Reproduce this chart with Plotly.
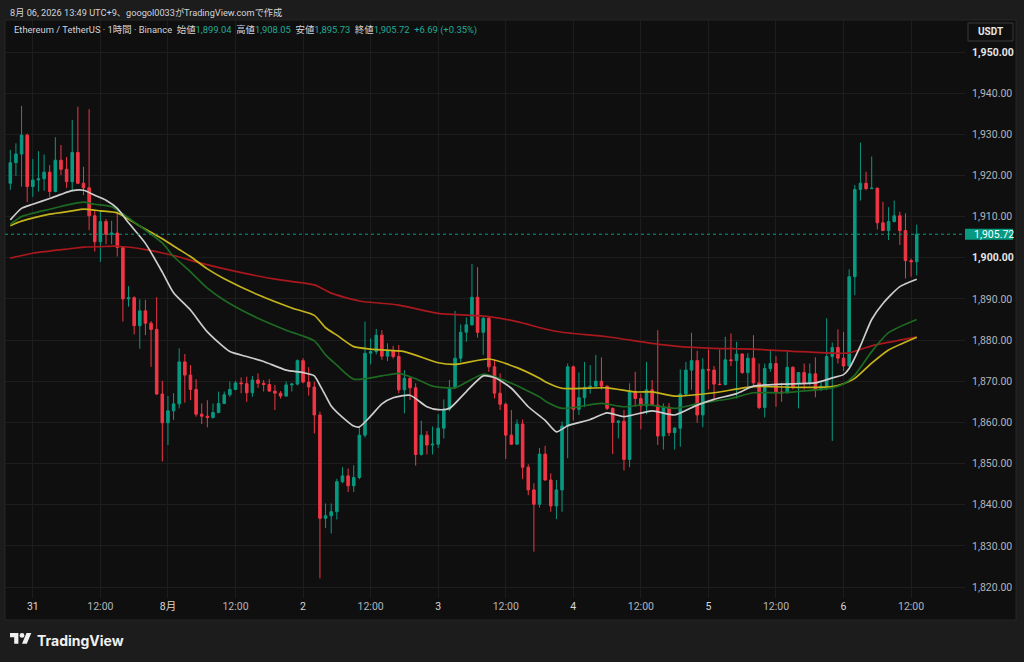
import pandas as pd
import plotly.graph_objects as go

# ---------------- data ----------------
start_time = "2026-07-30 20:00"

opens = [1918.1, 1923.1, 1925.2, 1929.8, 1917.3, 1918.9, 1919.2, 1920.8, 1916.1, 1923.7,
         1921.5, 1918.5, 1925.6, 1918.1, 1917.0, 1910.2, 1903.9, 1908.8, 1905.7, 1906.0,
         1902.5, 1890.0, 1890.3, 1883.5, 1887.1, 1884.1, 1882.6, 1866.9, 1859.9, 1862.8,
         1864.5, 1874.7, 1871.5, 1868.0, 1862.0, 1861.5, 1861.2, 1862.4, 1864.6, 1866.7,
         1868.0, 1869.6, 1869.4, 1867.2, 1870.3, 1869.5, 1869.2, 1867.6, 1867.1, 1866.4,
         1869.1, 1869.3, 1875.0, 1869.8, 1868.6, 1861.8, 1836.7, 1837.3, 1838.3, 1845.6,
         1847.0, 1844.6, 1846.6, 1856.9, 1876.8, 1877.2, 1881.2, 1876.1, 1877.4, 1876.0,
         1867.9, 1870.7, 1868.4, 1852.2, 1856.9, 1854.5, 1854.7, 1858.6, 1863.2, 1868.4,
         1875.6, 1881.9, 1883.7, 1890.4, 1881.9, 1885.3, 1873.5, 1867.1, 1864.4, 1856.9,
         1854.7, 1859.6, 1849.1, 1843.6, 1840.1, 1852.3, 1846.0, 1839.7, 1843.6, 1859.1,
         1873.5, 1863.2, 1866.0, 1868.5, 1868.8, 1870.0, 1868.8, 1863.4, 1860.0, 1860.3,
         1851.0, 1867.4, 1865.8, 1864.0, 1867.9, 1864.2, 1856.7, 1863.7, 1857.5, 1858.6,
         1866.9, 1872.7, 1875.0, 1861.8, 1872.9, 1872.7, 1869.3, 1869.2, 1875.2, 1875.0,
         1876.6, 1872.1, 1875.6, 1869.6, 1863.6, 1873.1, 1874.3, 1867.4, 1867.2, 1873.4,
         1869.6, 1872.1, 1869.6, 1871.8, 1868.0, 1868.8, 1876.0, 1878.2, 1875.6, 1873.7,
         1895.4, 1916.6, 1918.1, 1916.8, 1916.9, 1908.5, 1906.6, 1908.8, 1910.2, 1906.6,
         1899.3, 1899.04]
highs = [1926.2, 1927.8, 1936.9, 1930.2, 1924.0, 1925.9, 1925.1, 1922.5, 1929.3, 1927.4,
         1924.5, 1933.5, 1936.7, 1922.1, 1936.1, 1911.6, 1911.6, 1909.4, 1909.0, 1911.2,
         1902.8, 1893.1, 1890.6, 1889.9, 1889.8, 1884.6, 1890.4, 1870.1, 1866.4, 1867.1,
         1878.0, 1876.6, 1873.9, 1870.5, 1864.6, 1865.4, 1864.6, 1867.5, 1867.5, 1869.9,
         1870.1, 1870.9, 1871.1, 1871.3, 1871.9, 1870.3, 1870.5, 1869.1, 1867.6, 1869.9,
         1869.6, 1875.3, 1875.6, 1873.4, 1869.9, 1862.6, 1840.3, 1840.3, 1846.3, 1849.1,
         1848.8, 1849.6, 1859.0, 1884.5, 1880.4, 1882.7, 1882.4, 1879.2, 1878.6, 1878.8,
         1872.7, 1871.1, 1869.5, 1860.4, 1857.9, 1859.0, 1862.0, 1865.6, 1870.3, 1887.1,
         1883.8, 1885.5, 1898.5, 1897.7, 1885.7, 1885.8, 1875.2, 1871.9, 1864.8, 1863.0,
         1860.7, 1860.7, 1849.8, 1845.2, 1853.8, 1854.3, 1847.6, 1846.0, 1860.2, 1874.3,
         1873.8, 1872.1, 1874.7, 1873.9, 1876.4, 1875.8, 1869.0, 1863.6, 1860.6, 1863.0,
         1869.5, 1872.3, 1867.0, 1874.7, 1870.3, 1882.4, 1864.6, 1864.7, 1858.9, 1872.9,
         1874.7, 1881.8, 1877.4, 1875.6, 1877.7, 1873.7, 1877.7, 1880.8, 1881.6, 1879.6,
         1876.8, 1876.8, 1881.2, 1874.3, 1874.3, 1877.7, 1876.1, 1869.6, 1877.6, 1873.6,
         1872.1, 1874.3, 1874.3, 1875.8, 1869.9, 1885.3, 1879.4, 1882.6, 1882.0, 1897.2,
         1917.7, 1928.0, 1920.9, 1924.6, 1917.1, 1913.6, 1912.3, 1913.9, 1911.2, 1910.8,
         1899.8, 1908.05]
lows = [1916.5, 1919.9, 1917.3, 1913.5, 1914.8, 1916.1, 1916.3, 1914.8, 1915.9, 1920.1,
        1917.0, 1916.1, 1917.9, 1915.2, 1906.7, 1901.5, 1899.0, 1903.3, 1903.3, 1900.3,
        1884.5, 1888.1, 1881.4, 1877.9, 1881.2, 1873.5, 1866.7, 1850.5, 1854.5, 1860.6,
        1863.4, 1864.8, 1865.4, 1861.4, 1859.6, 1858.8, 1860.9, 1862.2, 1864.4, 1866.2,
        1867.8, 1867.1, 1865.0, 1866.2, 1868.4, 1867.5, 1867.4, 1863.0, 1865.8, 1866.2,
        1867.5, 1869.0, 1869.5, 1866.5, 1857.3, 1822.1, 1834.3, 1833.0, 1836.4, 1845.2,
        1843.1, 1843.1, 1846.2, 1856.3, 1874.1, 1876.5, 1875.2, 1874.9, 1875.5, 1867.1,
        1862.2, 1865.4, 1849.5, 1851.9, 1852.2, 1852.2, 1853.8, 1856.1, 1862.7, 1868.2,
        1874.6, 1879.6, 1883.5, 1880.6, 1876.4, 1872.3, 1865.8, 1863.0, 1851.1, 1854.5,
        1854.5, 1846.2, 1842.3, 1828.6, 1839.3, 1845.8, 1838.3, 1836.5, 1838.3, 1851.3,
        1860.4, 1861.8, 1863.7, 1867.0, 1868.7, 1868.0, 1863.0, 1852.3, 1856.1, 1848.3,
        1849.1, 1863.8, 1858.3, 1862.0, 1864.0, 1854.5, 1853.4, 1856.7, 1853.4, 1854.1,
        1866.3, 1867.9, 1859.9, 1858.8, 1868.0, 1865.4, 1869.0, 1869.0, 1873.7, 1865.8,
        1871.8, 1868.3, 1869.0, 1863.2, 1861.2, 1872.3, 1863.8, 1865.0, 1867.0, 1868.0,
        1863.4, 1868.0, 1869.0, 1866.1, 1867.6, 1867.8, 1855.5, 1874.3, 1872.5, 1873.5,
        1890.9, 1913.9, 1916.4, 1916.7, 1906.9, 1906.5, 1904.3, 1908.6, 1903.1, 1895.0,
        1895.4, 1895.73]
closes = [1923.1, 1925.2, 1929.8, 1917.3, 1918.9, 1919.2, 1920.8, 1916.1, 1923.7, 1921.5,
          1918.5, 1925.6, 1918.1, 1917.0, 1910.2, 1903.9, 1908.8, 1905.7, 1906.0, 1902.5,
          1890.0, 1890.3, 1883.5, 1887.1, 1884.1, 1882.6, 1866.9, 1859.9, 1862.8, 1864.5,
          1874.7, 1871.5, 1868.0, 1862.0, 1861.5, 1861.2, 1862.4, 1864.6, 1866.7, 1868.0,
          1869.6, 1869.4, 1867.2, 1870.3, 1869.5, 1869.2, 1867.6, 1867.1, 1866.4, 1869.1,
          1869.3, 1875.0, 1869.8, 1868.6, 1861.8, 1836.7, 1837.3, 1838.3, 1845.6, 1847.0,
          1844.6, 1846.6, 1856.9, 1876.8, 1877.2, 1881.2, 1876.1, 1877.4, 1876.0, 1867.9,
          1870.7, 1868.4, 1852.2, 1856.9, 1854.5, 1854.7, 1858.6, 1863.2, 1868.4, 1875.6,
          1881.9, 1883.7, 1890.4, 1881.9, 1885.3, 1873.5, 1867.1, 1864.4, 1856.9, 1854.7,
          1859.6, 1849.1, 1843.6, 1840.1, 1852.3, 1846.0, 1839.7, 1843.6, 1859.1, 1873.5,
          1863.2, 1866.0, 1868.5, 1868.8, 1870.0, 1868.8, 1863.4, 1860.0, 1860.3, 1851.0,
          1867.4, 1865.8, 1864.0, 1867.9, 1864.2, 1856.7, 1863.7, 1857.5, 1858.6, 1866.9,
          1872.7, 1875.0, 1861.8, 1872.9, 1872.7, 1869.3, 1869.2, 1875.2, 1875.0, 1876.6,
          1872.1, 1875.6, 1869.6, 1863.6, 1873.1, 1874.3, 1867.4, 1867.2, 1873.4, 1868.5,
          1872.1, 1869.6, 1871.8, 1868.0, 1868.8, 1876.0, 1878.2, 1875.6, 1873.7, 1895.4,
          1916.6, 1918.1, 1916.8, 1916.9, 1908.5, 1906.6, 1908.8, 1910.2, 1906.6, 1899.3,
          1899.03, 1905.72]

# moving averages (candle index -> value)
ma_white_idx = [0, 2, 4, 7, 9, 11, 13, 15, 17, 19, 21, 24, 27, 29, 32, 35, 39, 42, 45, 49,
                52, 54, 55, 56, 57, 58, 61, 62, 64, 66, 68, 71, 74, 76, 78, 81, 84, 86, 89, 92,
                95, 97, 99, 103, 106, 109, 114, 118, 122, 125, 129, 132, 137, 143, 146, 148,
                149, 151, 153, 155, 158, 161]
ma_white = [1909.2, 1912.0, 1913.0, 1914.4, 1915.4, 1916.3, 1916.4, 1915.2, 1914.0, 1912.0,
            1908.5, 1903.5, 1896.5, 1891.5, 1887.3, 1882.0, 1877.2, 1876.0, 1874.8, 1872.7,
            1872.1, 1871.3, 1869.0, 1866.5, 1864.0, 1862.5, 1859.1, 1858.9, 1861.5, 1864.5,
            1866.0, 1866.6, 1863.8, 1863.1, 1863.4, 1867.5, 1871.3, 1870.9, 1868.3, 1863.8,
            1860.5, 1857.7, 1859.2, 1860.7, 1862.3, 1861.4, 1862.8, 1861.8, 1864.2, 1865.6,
            1867.0, 1868.8, 1869.3, 1869.6, 1870.8, 1871.6, 1873.1, 1878.6, 1885.0, 1888.9,
            1893.0, 1894.8]
ma_green_idx = [0, 2, 7, 11, 13, 15, 18, 19, 22, 27, 29, 32, 35, 38, 44, 49, 54, 56, 58, 61,
                66, 69, 72, 75, 79, 84, 89, 94, 95, 98, 105, 109, 113, 118, 122, 128, 132, 137,
                146, 148, 150, 153, 156, 161]
ma_green = [1908.1, 1910.0, 1911.8, 1913.1, 1913.5, 1913.0, 1912.4, 1911.6, 1908.7, 1903.6,
            1900.3, 1896.6, 1892.6, 1889.7, 1885.3, 1882.4, 1879.8, 1876.4, 1873.9, 1870.5,
            1871.3, 1871.9, 1870.6, 1868.8, 1868.4, 1871.7, 1869.5, 1866.2, 1865.2, 1863.4,
            1864.6, 1863.8, 1864.3, 1863.4, 1864.5, 1865.8, 1867.2, 1867.2, 1868.4, 1869.3,
            1871.5, 1877.2, 1881.8, 1885.0]
ma_yellow_idx = [0, 2, 7, 11, 13, 16, 19, 23, 27, 30, 32, 35, 38, 44, 50, 54, 56, 58, 61, 64,
                 70, 76, 79, 85, 90, 94, 95, 98, 106, 111, 114, 118, 125, 132, 140, 146, 148,
                 150, 153, 156, 161]
ma_yellow = [1907.8, 1908.9, 1910.6, 1911.4, 1911.8, 1911.4, 1910.9, 1907.7, 1904.6, 1902.0,
             1900.3, 1897.3, 1894.9, 1891.0, 1887.8, 1886.0, 1883.0, 1881.2, 1878.4, 1877.8,
             1877.2, 1874.5, 1874.1, 1875.4, 1873.3, 1870.7, 1869.9, 1868.3, 1868.4, 1867.4,
             1867.4, 1866.4, 1867.2, 1868.7, 1868.5, 1868.7, 1869.4, 1870.7, 1874.4, 1877.6,
             1880.7]
ma_red_idx = [0, 4, 10, 13, 16, 19, 24, 30, 33, 39, 47, 54, 57, 62, 69, 76, 85, 90, 95, 98,
              106, 114, 119, 125, 132, 140, 147, 149, 153, 161]
ma_red = [1899.9, 1901.1, 1902.1, 1902.6, 1902.7, 1902.8, 1902.0, 1900.2, 1899.0, 1897.0,
          1894.8, 1893.4, 1891.4, 1889.5, 1888.5, 1886.5, 1885.7, 1884.5, 1882.7, 1881.9,
          1880.8, 1879.2, 1878.4, 1878.0, 1877.8, 1877.2, 1876.8, 1876.9, 1878.6, 1880.7]

y_ticks = list(range(1820, 1951, 10))
y_bold_ticks = [1900, 1950]
x_tick_labels = ["31", "12:00", "8月", "12:00", "2", "12:00", "3", "12:00",
                 "4", "12:00", "5", "12:00", "6", "12:00"]
x_tick_start = "2026-07-31 00:00"

# ---------------- style ----------------
W, H = 1024, 662
PL, PR, PT, PB = 5, 965, 20, 598     # plot area in pixels
BG_OUT = "#1c1c1c"
BG_IN = "#0f0f0f"
GRID = "#1d1d1d"
UP = "#089981"
DOWN = "#f23645"
TXT = "#b2b5be"
FONT = "Roboto, 'Noto Sans CJK JP', 'DejaVu Sans', sans-serif"


def px(x):
    return (x - PL) / (PR - PL)


def py(y):
    return (PB - y) / (PB - PT)


t0 = pd.Timestamp(start_time)
times = pd.date_range(t0, periods=len(closes), freq="h")
step_px = 5.63
first_px = 10.3


def hours_at(xpx):
    return t0 + pd.Timedelta(hours=(xpx - first_px) / step_px)


# y range from pixel calibration: 1950 at y=52, 1820 at y=587
ppu = (587 - 52) / 130.0
y_top = 1950 + (52 - PT) / ppu
y_bot = 1950 - (PB - 52) / ppu

fig = go.Figure()

fig.add_trace(go.Candlestick(
    x=times, open=opens, high=highs, low=lows, close=closes,
    increasing=dict(line=dict(color=UP, width=1), fillcolor=UP),
    decreasing=dict(line=dict(color=DOWN, width=1), fillcolor=DOWN),
    whiskerwidth=0, hoverinfo="skip", showlegend=False,
))

for idx, vals, col in [(ma_red_idx, ma_red, "#a8181d"),
                       (ma_yellow_idx, ma_yellow, "#c4b41a"),
                       (ma_green_idx, ma_green, "#1d6a22"),
                       (ma_white_idx, ma_white, "#cdcdcd")]:
    fig.add_trace(go.Scatter(
        x=[times[i] for i in idx], y=vals, mode="lines",
        line=dict(color=col, width=1.7, shape="spline", smoothing=0.6),
        hoverinfo="skip", showlegend=False,
    ))

# axis tick labels
y_text = []
for v in y_ticks:
    s = f"{v:,.2f}"
    if v in y_bold_ticks:
        s = f"<span style='color:#e6e6e6'><b>{s}</b></span>"
    y_text.append(s)

x_vals = [pd.Timestamp(x_tick_start) + pd.Timedelta(hours=12 * i) for i in range(len(x_tick_labels))]
x_text = [lab if lab == "12:00" else f"<span style='color:#d8d8d8'>{lab}</span>" for lab in x_tick_labels]

last_close = closes[-1]
prev_close = closes[-2]
chg = last_close - prev_close
pct = chg / prev_close * 100

shapes = [
    # panel
    dict(type="rect", xref="paper", yref="paper", x0=px(5), x1=px(1016), y0=py(620), y1=py(20),
         fillcolor=BG_IN, line=dict(color="#262626", width=1), layer="below"),
    # last price dotted line
    dict(type="line", xref="paper", yref="y", x0=0, x1=1, y0=last_close, y1=last_close,
         line=dict(color=UP, width=1, dash="dot")),
    # last price label box
    dict(type="rect", xref="paper", yref="y", x0=px(965), x1=px(1013),
         y0=last_close - 5.6 / ppu, y1=last_close + 5.6 / ppu,
         fillcolor=UP, line=dict(width=0)),
    # USDT box
    dict(type="rect", xref="paper", yref="paper", x0=px(968), x1=px(1013), y0=py(41), y1=py(23),
         fillcolor=BG_IN, line=dict(color="#3a3a3a", width=1)),
]

# TradingView logo (drawn in pixel space, scaled)
s, ox, oy = 0.6, 10.0, 630.6


def lp(pts):
    return "M " + " L ".join(f"{px(ox + a * s):.5f},{py(oy + b * s):.5f}" for a, b in pts) + " Z"


shapes.append(dict(type="path", xref="paper", yref="paper",
                   path=lp([(14, 22), (7, 22), (7, 11), (0, 11), (0, 4), (14, 4)]),
                   fillcolor="#f0f0f0", line=dict(width=0)))
shapes.append(dict(type="path", xref="paper", yref="paper",
                   path=lp([(28, 22), (20, 22), (27.5, 4), (35.5, 4)]),
                   fillcolor="#f0f0f0", line=dict(width=0)))
shapes.append(dict(type="circle", xref="paper", yref="paper",
                   x0=px(ox + 16 * s), x1=px(ox + 24 * s), y0=py(oy + 12 * s), y1=py(oy + 4 * s),
                   fillcolor="#f0f0f0", line=dict(width=0)))

NB = "\u00a0"
num = "#22ab94"
lab = "#d1d4dc"
legend_html = (
    f"<span style='color:{lab}'>Ethereum / TetherUS · 1時間 · Binance</span>{NB}{NB}"
    f"<span style='color:{lab}'>始値</span><span style='color:{num}'>{opens[-1]:,.2f}</span>{NB}{NB}"
    f"<span style='color:{lab}'>高値</span><span style='color:{num}'>{highs[-1]:,.2f}</span>{NB}{NB}"
    f"<span style='color:{lab}'>安値</span><span style='color:{num}'>{lows[-1]:,.2f}</span>{NB}{NB}"
    f"<span style='color:{lab}'>終値</span><span style='color:{num}'>{last_close:,.2f}</span>{NB}{NB}"
    f"<span style='color:{num}'>{chg:+.2f} ({pct:+.2f}%)</span>"
)

annotations = [
    dict(text="8月 06, 2026 13:49 UTC+9、googol0033がTradingView.comで作成",
         xref="paper", yref="paper", x=px(8), y=py(12), xanchor="left", yanchor="middle",
         showarrow=False, font=dict(size=9.2, color="#d1d4dc", family=FONT)),
    dict(text=legend_html, xref="paper", yref="paper", x=px(12), y=py(30),
         xanchor="left", yanchor="middle", showarrow=False,
         font=dict(size=9.4, color=lab, family=FONT)),
    dict(text="<b>USDT</b>", xref="paper", yref="paper", x=px(990.5), y=py(32),
         xanchor="center", yanchor="middle", showarrow=False,
         font=dict(size=10, color="#e6e6e6", family=FONT)),
    dict(text=f"{last_close:,.2f}", xref="paper", yref="y", x=px(972), y=last_close,
         xanchor="left", yanchor="middle", showarrow=False,
         font=dict(size=10.5, color="#ffffff", family=FONT)),
    dict(text="<b>TradingView</b>", xref="paper", yref="paper", x=px(35), y=py(640),
         xanchor="left", yanchor="middle", showarrow=False,
         font=dict(size=14, color="#f0f0f0", family="Inter, Roboto, sans-serif")),
]

fig.update_layout(
    width=W, height=H, autosize=False,
    margin=dict(l=PL, r=W - PR, t=PT, b=H - PB, pad=0),
    paper_bgcolor=BG_OUT, plot_bgcolor=BG_IN,
    font=dict(family=FONT, size=10, color=TXT),
    showlegend=False, hovermode=False,
    boxgap=0.35,
    shapes=shapes, annotations=annotations,
    xaxis=dict(
        type="date", range=[hours_at(PL), hours_at(PR)],
        rangeslider=dict(visible=False),
        tickvals=x_vals, ticktext=x_text, tickfont=dict(size=10.5, color=TXT),
        showgrid=True, gridcolor=GRID, gridwidth=1, zeroline=False,
        showline=False, ticks="", fixedrange=True,
    ),
    yaxis=dict(
        side="right", range=[y_bot, y_top],
        tickvals=y_ticks, ticktext=y_text, tickfont=dict(size=10.5, color=TXT),
        showgrid=True, gridcolor=GRID, gridwidth=1, zeroline=False,
        showline=False, ticks="", ticklabelstandoff=6, fixedrange=True,
    ),
)

fig.write_html(
    "out.html",
    config={"displayModeBar": False},
    post_script="document.body.style.margin='0';document.body.style.overflow='hidden';",
)
